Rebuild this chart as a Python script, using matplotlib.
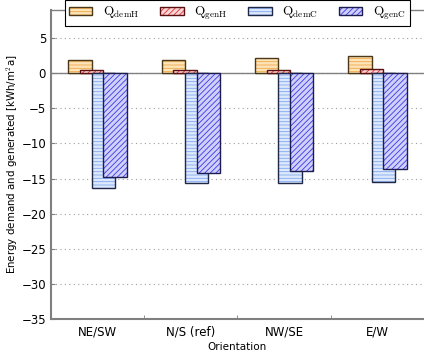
import matplotlib
matplotlib.use("Agg")
import matplotlib.pyplot as plt
import numpy as np
from matplotlib.patches import Patch

categories = ["NE/SW", "N/S (ref)", "NW/SE", "E/W"]
q_dem_h = [1.9, 1.85, 2.2, 2.5]
q_gen_h = [0.5, 0.5, 0.5, 0.6]
q_dem_c = [-16.3, -15.7, -15.6, -15.5]
q_gen_c = [-14.8, -14.2, -13.9, -13.6]
labels = [r"$\mathrm{Q}_{\mathrm{demH}}$", r"$\mathrm{Q}_{\mathrm{genH}}$",
          r"$\mathrm{Q}_{\mathrm{demC}}$", r"$\mathrm{Q}_{\mathrm{genC}}$"]

plt.rcParams['mathtext.fontset'] = 'cm'
plt.rcParams['hatch.linewidth'] = 0.6

fig = plt.figure(figsize=(4.24, 3.55), dpi=100)
ax = fig.add_axes([0.120, 0.1014, 0.880, 0.8704])

x = np.arange(len(categories))
width = 0.25
offsets = [-0.1875, -0.0625, 0.0625, 0.1875]
series = [q_dem_h, q_gen_h, q_dem_c, q_gen_c]
faces = ["#fde3b8", "#fbd6d6", "#dde8fc", "#d0d0fb"]
hatchcols = ["#f0a848", "#e03030", "#80a8f0", "#3838e8"]
edges = ["#4a3818", "#5a1010", "#202848", "#1c1c50"]
hatches = ["-----", "//////", "-----", "//////"]

handles = []
for i, (vals, off) in enumerate(zip(series, offsets)):
    z = 2 + i
    ax.bar(x + off, vals, width, color=faces[i], edgecolor="none", zorder=z)
    ax.bar(x + off, vals, width, color="none", edgecolor=hatchcols[i],
           hatch=hatches[i], linewidth=0, zorder=z)
    ax.bar(x + off, vals, width, fill=False, edgecolor=edges[i],
           linewidth=1.0, zorder=z)
    h = (Patch(facecolor=faces[i], edgecolor="none"),
         Patch(facecolor="none", edgecolor=hatchcols[i], hatch=hatches[i], linewidth=0),
         Patch(fill=False, edgecolor=edges[i], linewidth=1.0))
    handles.append(h)

ax.axhline(0, color="#808080", linewidth=1.0, zorder=1.5)
ax.set_xlim(-0.5, 3.5)
ax.set_ylim(-35, 9)
ax.set_yticks(np.arange(-35, 6, 5))
ax.yaxis.grid(True, linestyle=(0, (1, 3)), color="#a0a0a0", linewidth=0.8)
ax.set_axisbelow(True)
ax.set_xticks(x)
ax.set_xticklabels(categories, fontsize=8.5)
ax.set_xticks([0.5, 1.5, 2.5], minor=True)
ax.tick_params(axis='x', which='major', length=0, pad=5)
ax.tick_params(axis='x', which='minor', length=3, direction='in', color="#808080")
ax.tick_params(axis='y', length=3, direction='in', color="#808080", labelsize=8.5)

for s in ["left", "bottom"]:
    ax.spines[s].set_color("#808080")
    ax.spines[s].set_linewidth(1.5)
ax.spines["top"].set_color("#808080")
ax.spines["top"].set_linewidth(1.0)
ax.spines["right"].set_visible(False)

ax.set_xlabel("Orientation", fontsize=7.5, labelpad=2)
ax.set_ylabel(r"Energy demand and generated [kWh/m$^2$a]", fontsize=7.4)
ax.yaxis.set_label_coords(-0.083, 0.5)

leg = ax.legend(handles, labels, loc="center", bbox_to_anchor=(0.5, 0.99), ncol=4,
                fancybox=False, edgecolor="black", framealpha=1, fontsize=9.5,
                handlelength=1.75, columnspacing=1.6, borderpad=0.35,
                handleheight=0.55, handletextpad=0.8)
leg.get_frame().set_linewidth(0.8)
leg.set_zorder(10)

fig.savefig("out.png", dpi=100)
